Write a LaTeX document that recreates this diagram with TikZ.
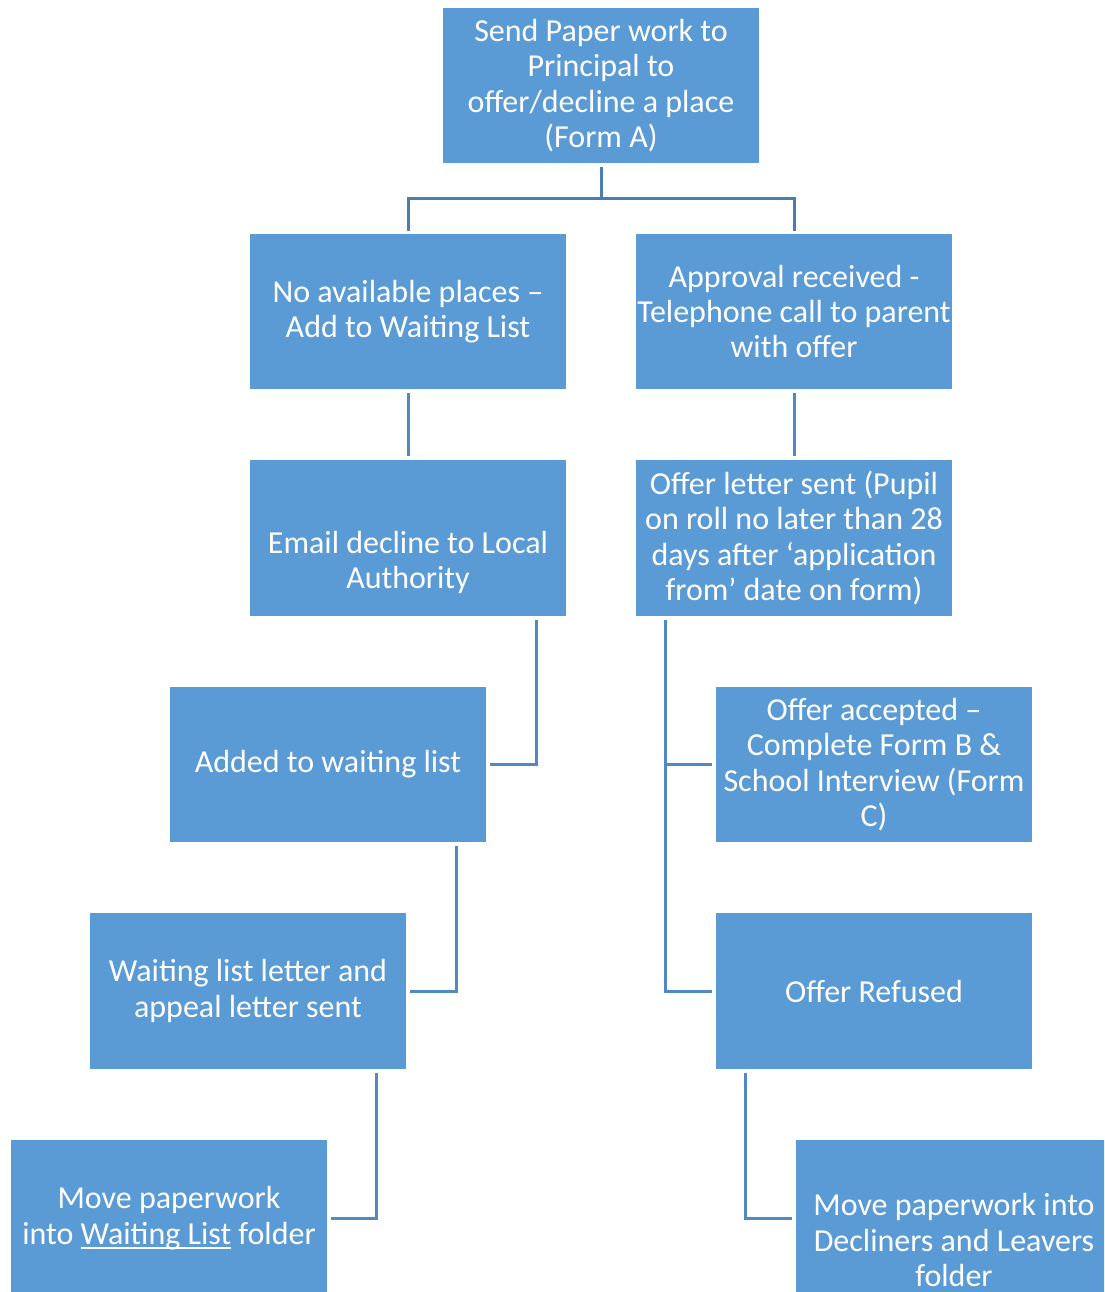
\documentclass[tikz,border=0pt]{standalone}
\usepackage{fontspec}
\setmainfont{Carlito}
\newcommand\myuline[1]{\setbox0\hbox{#1}\rlap{\rule[-5pt]{\wd0}{1.6pt}}\box0\relax}
\newcommand\lowered[2]{\raisebox{#1}[0pt][0pt]{\begin{tabular}[c]{@{}c@{}}#2\end{tabular}}}
\definecolor{boxblue}{HTML}{5B9BD5}
\definecolor{linetop}{HTML}{4A7DB2}
\definecolor{linelow}{HTML}{5289C4}
\tikzset{
  stepbox/.style={rectangle, fill=boxblue, text=white, minimum width=316pt, minimum height=156pt,
    inner sep=0pt, align=center, font=\fontsize{32}{35.3}\selectfont},
  conn/.style={draw=linelow, line width=3pt, shorten <=4pt, shorten >=4pt},
  conntop/.style={draw=linetop, line width=3pt, shorten <=4pt, shorten >=3pt}
}
\begin{document}
\begin{tikzpicture}[x=1pt,y=-1pt]
\clip (0,0) rectangle (1104,1292);
\fill[white] (0,0) rectangle (1104,1292);
\node[stepbox, minimum height=155pt] (top) at (601,85.5) {Send Paper work to\\Principal to\\offer/decline a place\\(Form A)};
\node[stepbox, minimum height=155pt] (L1) at (408,311.5) {No available places –\\Add to Waiting List};
\node[stepbox, minimum height=155pt] (R1) at (794,311.5) {Approval received -\\Telephone call to parent\\with offer};
\node[stepbox] (L2) at (408,538) {\lowered{-32.5pt}{Email decline to Local\\Authority}};
\node[stepbox] (R2) at (794,538) {Offer letter sent (Pupil\\on roll no later than 28\\days after ‘application\\from’ date on form)};
\node[stepbox, minimum height=155pt] (L3) at (328,764.5) {Added to waiting list};
\node[stepbox, minimum height=155pt] (R3) at (874,764.5) {Offer accepted –\\Complete Form B \&\\School Interview (Form\\C)};
\node[stepbox] (L4) at (248,991) {Waiting list letter and\\appeal letter sent};
\node[stepbox] (R4) at (874,991) {Offer Refused};
\node[stepbox] (L5) at (169,1218) {Move paperwork\\into \myuline{Waiting List} folder};
\node[stepbox, minimum height=200pt] (R5) at (954,1240) {Move paperwork into\\Decliners and Leavers\\folder};
% connectors
\draw[conntop] (top.south) -- ++(0,35) -| (L1.north);
\draw[conntop] (top.south) -- ++(0,35) -| (R1.north);
\draw[conn] (L1.south) -- (L2.north);
\draw[conn] (R1.south) -- (R2.north);
\draw[conn] ([xshift=-30pt]L2.south east) |- (L3.east);
\draw[conn] ([xshift=-30pt]L3.south east) |- (L4.east);
\draw[conn] ([xshift=-30pt]L4.south east) |- (L5.east);
\draw[conn] ([xshift=30pt]R2.south west) |- (R3.west);
\draw[conn] ([xshift=30pt]R2.south west) |- (R4.west);
\draw[conn] ([xshift=30pt]R4.south west) |- ([yshift=22pt]R5.west);
\end{tikzpicture}
\end{document}
